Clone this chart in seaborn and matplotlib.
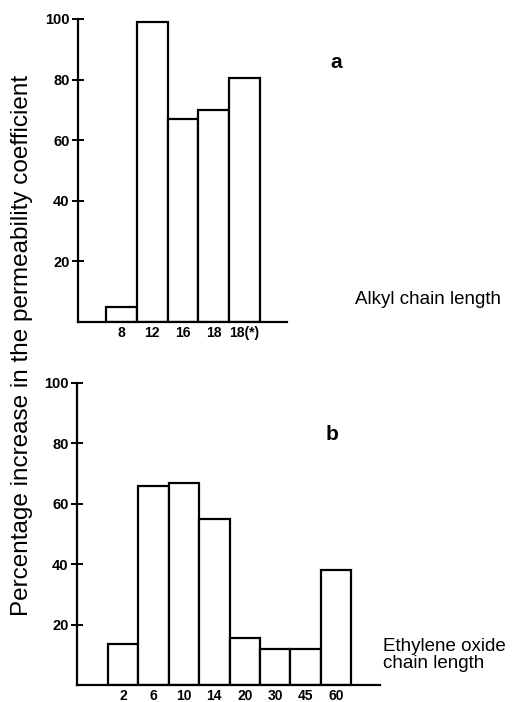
import matplotlib
matplotlib.use("Agg")
import matplotlib.pyplot as plt
import seaborn as sns

# -----------------------------
# DATA
# -----------------------------
alkyl_labels = ["8", "12", "16", "18", "18(*)"]
alkyl_values = [5, 99, 67, 70, 80.5]

eo_labels = ["2", "6", "10", "14", "20", "30", "45", "60"]
eo_values = [13.5, 66, 67, 55, 15.5, 12, 12, 38]

yticks = [20, 40, 60, 80, 100]

# -----------------------------
# SETUP
# -----------------------------
sns.set_theme(style="ticks")
plt.rcParams['font.family'] = ['Liberation Sans', 'DejaVu Sans']
plt.rcParams['text.color'] = 'black'
plt.rcParams['xtick.color'] = 'black'
plt.rcParams['ytick.color'] = 'black'

fig = plt.figure(figsize=(5.28, 7.02), dpi=100)
ax_a = fig.add_axes([78 / 528, 1 - 322 / 702, 209 / 528, 303 / 702])
ax_b = fig.add_axes([77 / 528, 1 - 685 / 702, 303 / 528, 302 / 702])


def draw_panel(ax, labels, values, xlim):
    sns.barplot(x=labels, y=values, ax=ax, width=1.0, color="white",
                edgecolor="black", linewidth=1.6, saturation=1)
    ax.set_ylim(0, 100)
    ax.set_xlim(*xlim)
    ax.set_yticks(yticks)
    ax.set_yticklabels([str(t) for t in yticks], fontsize=10.5, fontweight="bold")
    ax.tick_params(axis="y", direction="inout", length=8, width=1.4, pad=2)
    ax.tick_params(axis="x", length=0, pad=3, labelsize=10)
    for lab in ax.get_xticklabels():
        lab.set_fontweight("bold")
    for s in ["top", "right"]:
        ax.spines[s].set_visible(False)
    for s in ["left", "bottom"]:
        ax.spines[s].set_linewidth(1.6)
        ax.spines[s].set_color("black")
    ax.set_facecolor("white")


draw_panel(ax_a, alkyl_labels, alkyl_values, (-1.42, 5.39))
draw_panel(ax_b, eo_labels, eo_values, (-1.52, 8.45))

# panel letters and axis captions
fig.text(330 / 528, 1 - 62 / 702, "a", fontsize=15, fontweight="bold", va="center")
fig.text(326 / 528, 1 - 435 / 702, "b", fontsize=15, fontweight="bold", va="center")
fig.text(355 / 528, 1 - 300 / 702, "Alkyl chain length", fontsize=13.5, va="center")
fig.text(383 / 528, 1 - 655 / 702, "Ethylene oxide\nchain length", fontsize=13.5,
         va="center", linespacing=1.05)
fig.text(22 / 528, 1 - 345 / 702,
         "Percentage increase in the permeability coefficient",
         rotation=90, fontsize=17.5, ha="center", va="center")

plt.savefig("out.png", dpi=100)
plt.close()
